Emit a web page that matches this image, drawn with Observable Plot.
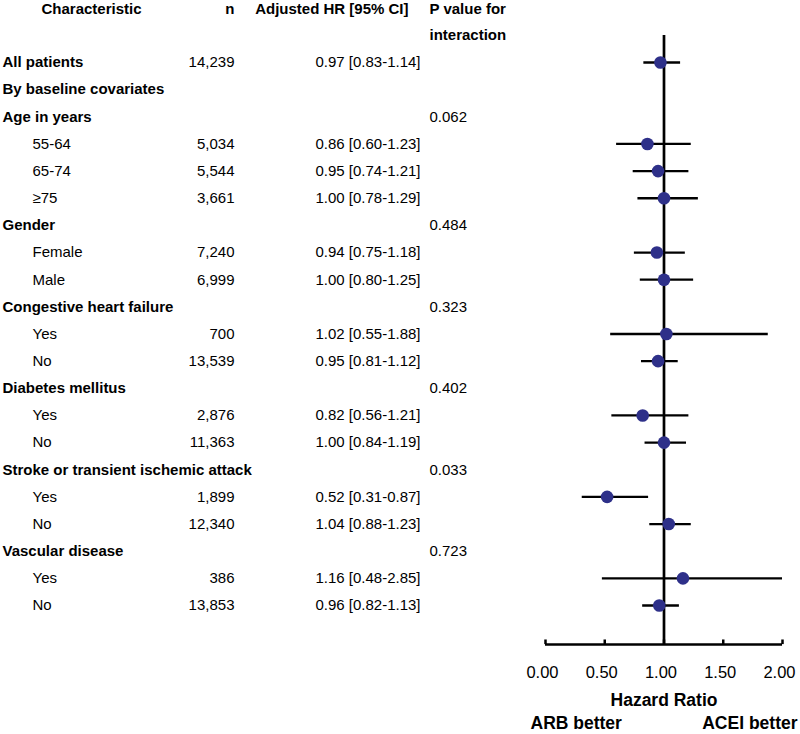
<!DOCTYPE html>
<html>
<head>
<meta charset="utf-8">
<script src="https://cdn.jsdelivr.net/npm/d3@7"></script>
<script src="https://cdn.jsdelivr.net/npm/@observablehq/plot@0.6"></script>
<style>
  html, body { margin: 0; padding: 0; background: #fff; }
  #chart svg { display: block; }
</style>
</head>
<body>
<div id="chart"></div>
<script>
const labels = ["All patients","By baseline covariates","Age in years","55-64","65-74","\u226575","Gender","Female","Male","Congestive heart failure","Yes","No","Diabetes mellitus","Yes","No","Stroke or transient ischemic attack","Yes","No","Vascular disease","Yes","No"];
const isGroup = [1,1,1,0,0,0,1,0,0,1,0,0,1,0,0,1,0,0,1,0,0];
const nText = ["14,239","","","5,034","5,544","3,661","","7,240","6,999","","700","13,539","","2,876","11,363","","1,899","12,340","","386","13,853"];
const hr = [0.97,null,null,0.86,0.95,1.00,null,0.94,1.00,null,1.02,0.95,null,0.82,1.00,null,0.52,1.04,null,1.16,0.96];
const lo = [0.83,null,null,0.60,0.74,0.78,null,0.75,0.80,null,0.55,0.81,null,0.56,0.84,null,0.31,0.88,null,0.48,0.82];
const hi = [1.14,null,null,1.23,1.21,1.29,null,1.18,1.25,null,1.88,1.12,null,1.21,1.19,null,0.87,1.23,null,2.85,1.13];
const pValues = ["","","0.062","","","","0.484","","","0.323","","","0.402","","","0.033","","","0.723","",""];
const xTicks = [0, 0.5, 1, 1.5, 2];
const headers = ["Characteristic","n","Adjusted HR [95% CI]","P value for","interaction"];

const rows = labels.map((label, i) => ({
  i, label, group: isGroup[i] === 1, n: nText[i], hr: hr[i], lo: lo[i], hi: hi[i], p: pValues[i],
  hrText: hr[i] == null ? "" : `${hr[i].toFixed(2)} [${lo[i].toFixed(2)}-${hi[i].toFixed(2)}]`
}));
const est = rows.filter(d => d.hr != null);

// layout (row units on the y scale)
const headRow1 = -1.95, headRow2 = -1.02, topRow = -0.99, axisRow = 21.44;
const tickLabelRow = 22.47, titleRow = 23.5, sideRow = 24.36;

const font = "Liberation Sans, Arial, Helvetica, sans-serif";
const ink = "#000";
const dotColor = "#2e3089";

const fmt = d3.format(".2f");

const chart = Plot.plot({
  width: 800,
  height: 734,
  marginLeft: 0, marginRight: 0, marginTop: 0, marginBottom: 0,
  x: {type: "linear", domain: [0, 2], range: [545, 782], axis: null},
  y: {type: "linear", domain: [0, 20], range: [62, 605], axis: null},
  style: {fontFamily: font, color: ink, background: "#fff"},
  marks: [
    // header
    Plot.text([headers[0]], {y: () => headRow1, text: d => d, frameAnchor: "left", dx: 91, textAnchor: "middle", fontWeight: "bold", fontSize: 15, fontFamily: font, fill: ink}),
    Plot.text([headers[1]], {y: () => headRow1, text: d => d, frameAnchor: "left", dx: 234, textAnchor: "end", fontWeight: "bold", fontSize: 15, fontFamily: font, fill: ink}),
    Plot.text([headers[2]], {y: () => headRow1, text: d => d, frameAnchor: "left", dx: 408, textAnchor: "end", fontWeight: "bold", fontSize: 15, fontFamily: font, fill: ink}),
    Plot.text([headers[3]], {y: () => headRow1, text: d => d, frameAnchor: "left", dx: 429, textAnchor: "start", fontWeight: "bold", fontSize: 15, fontFamily: font, fill: ink}),
    Plot.text([headers[4]], {y: () => headRow2, text: d => d, frameAnchor: "left", dx: 429, textAnchor: "start", fontWeight: "bold", fontSize: 15, fontFamily: font, fill: ink}),
    // row labels
    Plot.text(rows.filter(d => d.group), {y: "i", text: "label", frameAnchor: "left", dx: 2, textAnchor: "start", fontWeight: "bold", fontSize: 15, fontFamily: font, fill: ink}),
    Plot.text(rows.filter(d => !d.group), {y: "i", text: "label", frameAnchor: "left", dx: 32, textAnchor: "start", fontSize: 15, fontFamily: font, fill: ink}),
    // n
    Plot.text(rows.filter(d => d.n), {y: "i", text: "n", frameAnchor: "left", dx: 234, textAnchor: "end", fontSize: 15, fontFamily: font, fill: ink}),
    // HR text
    Plot.text(est, {y: "i", text: "hrText", frameAnchor: "left", dx: 420, textAnchor: "end", fontSize: 15, fontFamily: font, fill: ink}),
    // p values
    Plot.text(rows.filter(d => d.p), {y: "i", text: "p", frameAnchor: "left", dx: 429, textAnchor: "start", fontSize: 15, fontFamily: font, fill: ink}),
    // axis line and ticks
    Plot.ruleY([axisRow], {x1: 0, x2: 2, stroke: ink, strokeWidth: 2.5}),
    Plot.ruleX(xTicks, {x: d => d, y1: axisRow, y2: axisRow - 0.17, stroke: ink, strokeWidth: 2.5}),
    Plot.text(xTicks, {x: d => d, y: () => tickLabelRow, text: d => fmt(d), dx: -3, fontSize: 16.5, fontFamily: font, fill: ink}),
    Plot.text(["Hazard Ratio"], {x: () => 1, y: () => titleRow, text: d => d, fontWeight: "bold", fontSize: 17.5, fontFamily: font, fill: ink}),
    Plot.text(["ARB better"], {x: () => 0, y: () => sideRow, text: d => d, dx: -15, textAnchor: "start", fontWeight: "bold", fontSize: 17.5, fontFamily: font, fill: ink}),
    Plot.text(["ACEI better"], {y: () => sideRow, text: d => d, frameAnchor: "right", dx: -3, textAnchor: "end", fontWeight: "bold", fontSize: 17.5, fontFamily: font, fill: ink}),
    // reference line at HR = 1
    Plot.ruleX([1], {x: d => d, y1: topRow, y2: axisRow, stroke: ink, strokeWidth: 2.7}),
    // confidence intervals
    Plot.ruleY(est, {y: "i", x1: "lo", x2: d => Math.min(d.hi, 2), stroke: ink, strokeWidth: 2.3}),
    // estimates
    Plot.dot(est, {x: "hr", y: "i", r: 6.3, fill: dotColor, stroke: "none"})
  ]
});
document.getElementById("chart").appendChild(chart);
</script>
</body>
</html>
